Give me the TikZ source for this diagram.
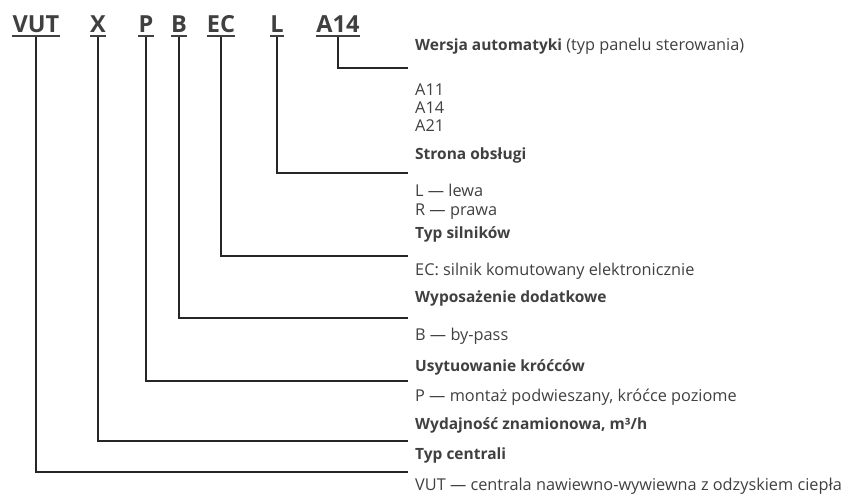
\documentclass[tikz,border=0pt]{standalone}
\usepackage{fontspec}
\setmainfont{Open Sans}
\definecolor{txt}{HTML}{404040}
\definecolor{linec}{HTML}{262626}
\begin{document}
\begin{tikzpicture}[x=1pt,y=-1pt,
  code/.style={font=\fontsize{23.5}{25}\selectfont\bfseries, text=txt, inner sep=0pt, anchor=base},
  ttl/.style={font=\fontsize{15.5}{17}\selectfont\bfseries, text=txt, inner sep=0pt, anchor=base west},
  dsc/.style={font=\fontsize{16.3}{18}\selectfont, text=txt, inner sep=0pt, anchor=base west},
  conn/.style={draw=linec, line width=1.2pt},
  ul/.style={draw=txt, line width=1.8pt}]
\useasboundingbox (0,0) rectangle (846,497);
% codes
\node[code] (cvut) at (36,33) {VUT};
\node[code] (cx) at (98,33) {X};
\node[code] (cp) at (146,33) {P};
\node[code] (cb) at (179,33) {B};
\node[code] (cec) at (221,33) {EC};
\node[code] (cl) at (277,33) {L};
\node[code] (ca) at (338,33) {A14};
\foreach \n in {cvut,cx,cp,cb,cec,cl,ca}
  \draw[ul] ([yshift=-3pt]\n.base west) -- ([yshift=-3pt]\n.base east);
% texts
\node[ttl] (t1) at (415,51) {Wersja automatyki \fontsize{16.3}{18}\selectfont\mdseries(typ panelu sterowania)};
\node[dsc] (d1a) at (415,96) {A11};
\node[dsc] (d1b) at (415,114) {A14};
\node[dsc] (d1c) at (415,132) {A21};
\node[ttl] (t2) at (415,160) {Strona obsługi};
\node[dsc] (d2a) at (415,197) {L — lewa};
\node[dsc] (d2b) at (415,215) {R — prawa};
\node[ttl] (t3) at (415,239) {Typ silników};
\node[dsc] (d3) at (415,276) {EC: silnik komutowany elektronicznie};
\node[ttl] (t4) at (415,302) {Wyposażenie dodatkowe};
\node[dsc] (d4) at (415,340) {B — by-pass};
\node[ttl] (t5) at (415,371) {Usytuowanie króćców};
\node[dsc] (d5) at (415,401) {P — montaż podwieszany, króćce poziome};
\node[ttl] (t6) at (415,429) {Wydajność znamionowa, m³/h};
\node[ttl] (t7) at (415,459) {Typ centrali};
\node[dsc] (d7) at (415,490) {VUT — centrala nawiewno-wywiewna z odzyskiem ciepła};
% line ends
\coordinate (ea) at (408,68);
\coordinate (el) at (408,173);
\coordinate (eec) at (408,256);
\coordinate (eb) at (408,318);
\coordinate (ep) at (408,381);
\coordinate (ex) at (408,441);
\coordinate (evut) at (408,472);
% connectors
\draw[conn] ([yshift=-4pt]ca.base) |- (ea);
\draw[conn] ([yshift=-4pt]cl.base) |- (el);
\draw[conn] ([yshift=-4pt]cec.base) |- (eec);
\draw[conn] ([yshift=-4pt]cb.base) |- (eb);
\draw[conn] ([yshift=-4pt]cp.base) |- (ep);
\draw[conn] ([yshift=-4pt]cx.base) |- (ex);
\draw[conn] ([yshift=-4pt]cvut.base) |- (evut);
\end{tikzpicture}
\end{document}
